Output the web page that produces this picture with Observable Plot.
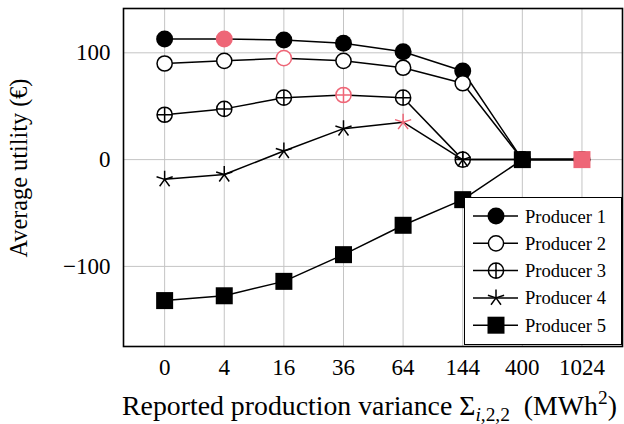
<!DOCTYPE html>
<html>
<head>
<meta charset="utf-8">
<script src="https://cdn.jsdelivr.net/npm/d3@7"></script>
<script src="https://cdn.jsdelivr.net/npm/@observablehq/plot@0.6"></script>
<style>
  body { margin: 0; background: #fff; }
  #wrap { position: relative; width: 624px; height: 424px; }
  #wrap svg text, #wrap svg tspan { font-family: "Liberation Serif", "Times New Roman", serif !important; }
  #legend { position: absolute; background: #fff; border: 1.5px solid #000; box-sizing: border-box; }
</style>
</head>
<body>
<div id="wrap"></div>
<script>
// ---- data ----
const xLabels = ["0", "4", "16", "36", "64", "144", "400", "1024"];
const seriesNames = ["Producer 1", "Producer 2", "Producer 3", "Producer 4", "Producer 5"];
const producer1 = [113, 113, 112, 109, 101, 83, 0, 0];
const producer2 = [90, 92.5, 95, 92.5, 86, 71.5, 0, 0];
const producer3 = [42, 47.5, 58, 60.5, 58, 0, 0, 0];
const producer4 = [-18.5, -14, 8, 29, 35, 0, 0, 0];
const producer5 = [-132, -127.5, -114, -89, -61.5, -37.5, 0, 0];
const highlightIndex = [1, 2, 3, 4, 7]; // best reported variance per producer
const yTicks = [-100, 0, 100];

const allValues = [producer1, producer2, producer3, producer4, producer5];
const PINK = "#EE6677";

// ---- custom pgfplots-like symbols ----
const R = s => Math.sqrt(s / Math.PI);
const symCircle = { draw(c, s) { const r = R(s); c.moveTo(r, 0); c.arc(0, 0, r, 0, 2 * Math.PI); c.closePath(); } };
const symOplus = { draw(c, s) { const r = R(s); c.moveTo(r, 0); c.arc(0, 0, r, 0, 2 * Math.PI); c.closePath();
  c.moveTo(-r, 0); c.lineTo(r, 0); c.moveTo(0, -r); c.lineTo(0, r); } };
const symStar = { draw(c, s) { const r = R(s);
  for (let k = 0; k < 5; k++) { const a = -Math.PI / 2 + k * 2 * Math.PI / 5; c.moveTo(0, 0); c.lineTo(r * Math.cos(a), r * Math.sin(a)); } } };
const symSquare = { draw(c, s) { const r = R(s); c.rect(-r, -r, 2 * r, 2 * r); } };

const styles = [
  { symbol: symCircle, r: 8.5, filled: true },
  { symbol: symCircle, r: 7.6, filled: false },
  { symbol: symOplus, r: 7.6, filled: false },
  { symbol: symStar, r: 8.5, filled: false, star: true },
  { symbol: symSquare, r: 8.5, filled: true }
];

const table = [];
allValues.forEach((vals, si) => vals.forEach((v, i) => table.push({
  series: seriesNames[si], si, i, v, hl: highlightIndex[si] === i
})));

const marks = [
  Plot.gridX(d3.range(xLabels.length), { stroke: "#c4c4c4", strokeOpacity: 1, strokeWidth: 1 }),
  Plot.gridY(yTicks, { stroke: "#c4c4c4", strokeOpacity: 1, strokeWidth: 1 }),
  Plot.axisX(d3.range(xLabels.length), { tickFormat: i => xLabels[i], tickSize: 0, tickPadding: 12.5, fontSize: 23, label: null }),
  Plot.axisY(yTicks, { tickSize: 0, tickPadding: 13, fontSize: 23, label: null })
];

seriesNames.forEach((name, si) => {
  const d = table.filter(t => t.si === si);
  const st = styles[si];
  marks.push(Plot.line(d, { x: "i", y: "v", stroke: "#000", strokeWidth: 1.5 }));
  if (st.filled) {
    marks.push(Plot.dot(d, { x: "i", y: "v", r: st.r, symbol: st.symbol, fill: t => t.hl ? PINK : "#000", stroke: "none" }));
  } else if (st.star) {
    marks.push(Plot.dot(d, { x: "i", y: "v", r: st.r, symbol: st.symbol, fill: "none", stroke: t => t.hl ? PINK : "#000", strokeWidth: 1.5 }));
  } else {
    marks.push(Plot.dot(d, { x: "i", y: "v", r: st.r, symbol: st.symbol, fill: "#fff", stroke: t => t.hl ? PINK : "#000", strokeWidth: 1.5 }));
  }
});
marks.push(Plot.frame({ stroke: "#000", strokeWidth: 1.6 }));

const plot = Plot.plot({
  width: 624,
  height: 424,
  marginLeft: 123,
  marginRight: 2,
  marginTop: 8,
  marginBottom: 78,
  style: { color: "#000", background: "#fff" },
  x: { type: "linear", domain: [-0.69, 7.68], axis: null },
  y: { domain: [-175, 141.5], axis: null },
  marks
});

const wrap = document.getElementById("wrap");
wrap.appendChild(plot);
const svg = d3.select(plot);

// fit a text element's size so that it spans a target length
function fit(sel, build, target) {
  build(sel, 24);
  const w = sel.node().getComputedTextLength();
  const s = w > 0 ? 24 * target / w : 24;
  sel.selectAll("tspan").remove();
  build(sel, s);
  return s;
}

// y axis title
const yt = svg.append("text").attr("text-anchor", "middle").attr("fill", "#000");
fit(yt, (t, s) => t.attr("font-size", s).text("Average utility (€)"), 179);
yt.attr("transform", `translate(27, 168) rotate(-90)`);

// x axis title
const xt = svg.append("text").attr("x", (122 + 617) / 2).attr("y", 415)
  .attr("text-anchor", "middle").attr("fill", "#000");
fit(xt, (t, s) => {
  t.attr("font-size", s);
  const sub = s * 0.7;
  t.append("tspan").text("Reported production variance Σ");
  t.append("tspan").attr("font-size", sub).attr("dy", s * 0.2).attr("font-style", "italic").text("i");
  t.append("tspan").attr("font-size", sub).text(",2,2");
  t.append("tspan").attr("dy", -s * 0.2).text("\u2002(MWh");
  t.append("tspan").attr("font-size", sub).attr("dy", -s * 0.38).text("2");
  t.append("tspan").attr("dy", s * 0.38).text(")");
}, 495);

// legend
const lg = d3.select(wrap).append("div").attr("id", "legend")
  .style("left", "464px").style("top", "197px").style("width", "158px").style("height", "148px");
const ls = lg.append("svg").attr("width", 155).attr("height", 145);
seriesNames.forEach((name, si) => {
  const st = styles[si];
  const g = ls.append("g").attr("transform", `translate(0, ${18 + si * 27.3})`);
  g.append("line").attr("x1", 8).attr("x2", 53).attr("y1", 0).attr("y2", 0).attr("stroke", "#000").attr("stroke-width", 1.5);
  g.append("path").attr("transform", "translate(31,0)")
    .attr("d", d3.symbol(st.symbol, st.r * st.r * Math.PI)())
    .attr("fill", st.filled ? "#000" : (st.star ? "none" : "#fff"))
    .attr("stroke", st.filled ? "none" : "#000").attr("stroke-width", 1.5);
  const tx = g.append("text").attr("x", 60).attr("y", 6.5).attr("fill", "#000");
  fit(tx, (t, s) => t.attr("font-size", s).text(name), 81);
});
</script>
</body>
</html>
